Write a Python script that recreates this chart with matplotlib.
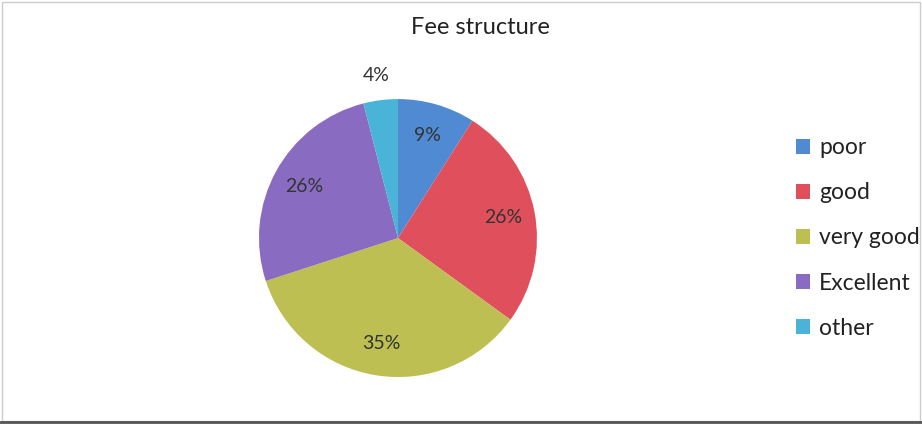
import matplotlib
matplotlib.use("Agg")
import matplotlib.pyplot as plt
from matplotlib.patches import Rectangle

categories = ["poor", "good", "very good", "Excellent", "other"]
values = [9, 26, 35, 26, 4]
colors = ["#4F8AD2", "#E0505C", "#BDBF52", "#8A6BC2", "#4AB3D8"]

plt.rcParams['font.family'] = ['Lato', 'DejaVu Sans']

fig = plt.figure(figsize=(9.22, 4.25), dpi=100)
fig.patch.set_facecolor("white")

ax = fig.add_axes([0.2809, 0.1129, 0.3015, 0.654])
wedges, texts, autotexts = ax.pie(
    values, colors=colors, startangle=90, counterclock=False,
    autopct=lambda p: f"{p:.0f}%", pctdistance=0.77,
    wedgeprops=dict(linewidth=0),
    textprops=dict(fontsize=14, color="#333333"))
autotexts[-1].set_position((-0.16, 1.17))
ax.set_aspect("equal")
ax.set_xlim(-1, 1)
ax.set_ylim(-1, 1)

fig.text(480 / 922, 1 - 28 / 425, "Fee structure", ha="center", va="center",
         fontsize=17, color="#222222")

handles = [Rectangle((0, 0), 1, 1, facecolor=c, edgecolor="none") for c in colors]
leg = fig.legend(handles, categories, loc="center left",
                 bbox_to_anchor=(796 / 922, 1 - 238 / 425),
                 frameon=False, fontsize=16.5, handlelength=0.6, handleheight=0.6,
                 handletextpad=0.4, labelspacing=1.05, borderaxespad=0,
                 borderpad=0)
for t in leg.get_texts():
    t.set_color("#222222")

# frame
fig.add_artist(Rectangle((0.002, 0.01), 0.996, 0.985, transform=fig.transFigure,
                         fill=False, edgecolor="#cccccc", linewidth=1))
fig.add_artist(plt.Line2D([0, 1], [0.008, 0.008], transform=fig.transFigure,
                          color="#555555", linewidth=2))

fig.savefig("out.png", dpi=100)
